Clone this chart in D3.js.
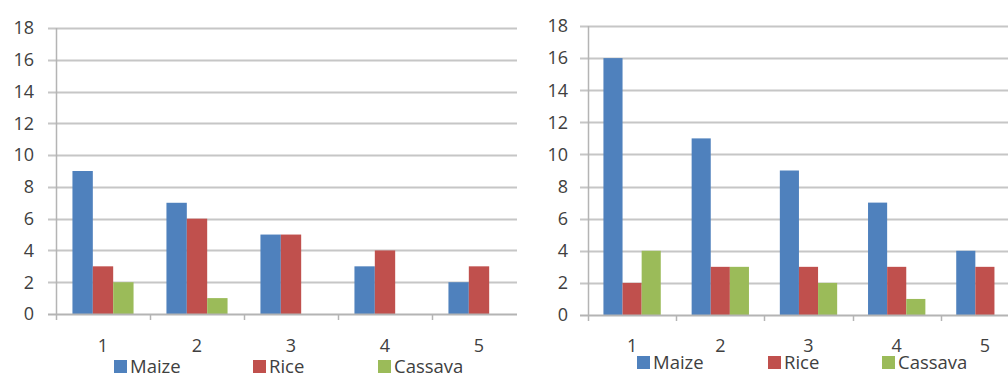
<!DOCTYPE html>
<html>
<head>
<meta charset="utf-8">
<script src="https://cdn.jsdelivr.net/npm/d3@7"></script>
<style>
    body { margin: 0; background: #fff; }
    svg { display: block; }
    text { font-family: "Open Sans", sans-serif; fill: #404040; }
</style>
</head>
<body>
<svg width="1008" height="377"></svg>
<script>
const categories = ["1", "2", "3", "4", "5"];
const seriesNames = ["Maize", "Rice", "Cassava"];
const colors = ["#4f81bd", "#c0504d", "#9bbb59"];
const yTicks = [0, 2, 4, 6, 8, 10, 12, 14, 16, 18];

// left panel
const maizeA = [9, 7, 5, 3, 2];
const riceA = [3, 6, 5, 4, 3];
const cassavaA = [2, 1, 0, 0, 0];

// right panel
const maizeB = [16, 11, 9, 7, 4];
const riceB = [2, 3, 3, 3, 3];
const cassavaB = [4, 3, 2, 1, 0];

const svg = d3.select('svg');

drawChart({
    values: [maizeA, riceA, cassavaA],
    x0: 56, x1: 526, gridEnd: 517,
    yTop: 28, yZero: 314,
    labelX: 34,
    legendY: 367, legendX: [114, 253, 378]
});

drawChart({
    values: [maizeB, riceB, cassavaB],
    x0: 588, x1: 1029, gridEnd: 1008,
    yTop: 26, yZero: 315,
    labelX: 568,
    legendY: 363, legendX: [637, 768, 882]
});

function drawChart(c) {
    let g = svg.append('g');

    let x = d3.scaleBand()
        .domain(categories)
        .range([c.x0, c.x1])
        .paddingInner(0.35)
        .paddingOuter(0.175);

    let xs = d3.scaleBand()
        .domain(seriesNames)
        .range([0, x.bandwidth()]);

    let y = d3.scaleLinear()
        .domain([0, 18])
        .range([c.yZero, c.yTop]);

    // gridlines
    g.selectAll('.grid')
        .data(yTicks.filter(d => d > 0))
        .enter().append('line')
        .attr('class', 'grid')
        .attr('x1', c.x0 - 8)
        .attr('x2', c.gridEnd)
        .attr('y1', d => Math.round(y(d)) + 0.5)
        .attr('y2', d => Math.round(y(d)) + 0.5)
        .style('stroke', '#c6c6c6')
        .style('stroke-width', 2);

    // y axis labels
    g.selectAll('.ylab')
        .data(yTicks)
        .enter().append('text')
        .attr('class', 'ylab')
        .attr('x', c.labelX)
        .attr('y', d => y(d))
        .attr('dy', '0.35em')
        .attr('text-anchor', 'end')
        .style('font-size', '18px')
        .text(d => d);

    // bars
    let rows = [];
    c.values.forEach(function (vals, s) {
        vals.forEach(function (v, i) {
            rows.push({cat: categories[i], series: seriesNames[s], value: v, fill: colors[s]});
        });
    });

    g.selectAll('.bar')
        .data(rows.filter(d => d.value > 0))
        .enter().append('rect')
        .attr('class', 'bar')
        .attr('x', d => x(d.cat) + xs(d.series))
        .attr('width', xs.bandwidth())
        .attr('y', d => y(d.value))
        .attr('height', d => y(0) - y(d.value))
        .style('fill', d => d.fill);

    // axes lines
    g.append('line')
        .attr('x1', c.x0 + 0.5).attr('x2', c.x0 + 0.5)
        .attr('y1', c.yTop).attr('y2', c.yZero + 6)
        .style('stroke', '#b4b4b4').style('stroke-width', 1.5);

    g.append('line')
        .attr('x1', c.x0 - 8).attr('x2', c.gridEnd)
        .attr('y1', c.yZero + 0.5).attr('y2', c.yZero + 0.5)
        .style('stroke', '#b4b4b4').style('stroke-width', 2);

    // category tick marks
    let step = x.step();
    g.selectAll('.xtick')
        .data(categories.slice(1))
        .enter().append('line')
        .attr('class', 'xtick')
        .attr('x1', d => Math.round(x(d) - step * x.paddingInner() / 2) + 0.5)
        .attr('x2', d => Math.round(x(d) - step * x.paddingInner() / 2) + 0.5)
        .attr('y1', c.yZero)
        .attr('y2', c.yZero + 6)
        .style('stroke', '#b4b4b4').style('stroke-width', 1.5);

    // category labels
    g.selectAll('.xlab')
        .data(categories)
        .enter().append('text')
        .attr('class', 'xlab')
        .attr('x', d => x(d) + x.bandwidth() / 2)
        .attr('y', 352)
        .attr('text-anchor', 'middle')
        .style('font-size', '18px')
        .text(d => d);

    // legend
    let leg = g.selectAll('.legend')
        .data(seriesNames)
        .enter().append('g')
        .attr('class', 'legend')
        .attr('transform', (d, i) => 'translate(' + c.legendX[i] + ',' + c.legendY + ')');

    leg.append('rect')
        .attr('x', 0).attr('y', -7)
        .attr('width', 13).attr('height', 13)
        .style('fill', (d, i) => colors[i]);

    leg.append('text')
        .attr('x', 16)
        .attr('y', 0)
        .attr('dy', '0.35em')
        .style('font-size', '18.5px')
        .text(d => d);
}
</script>
</body>
</html>
